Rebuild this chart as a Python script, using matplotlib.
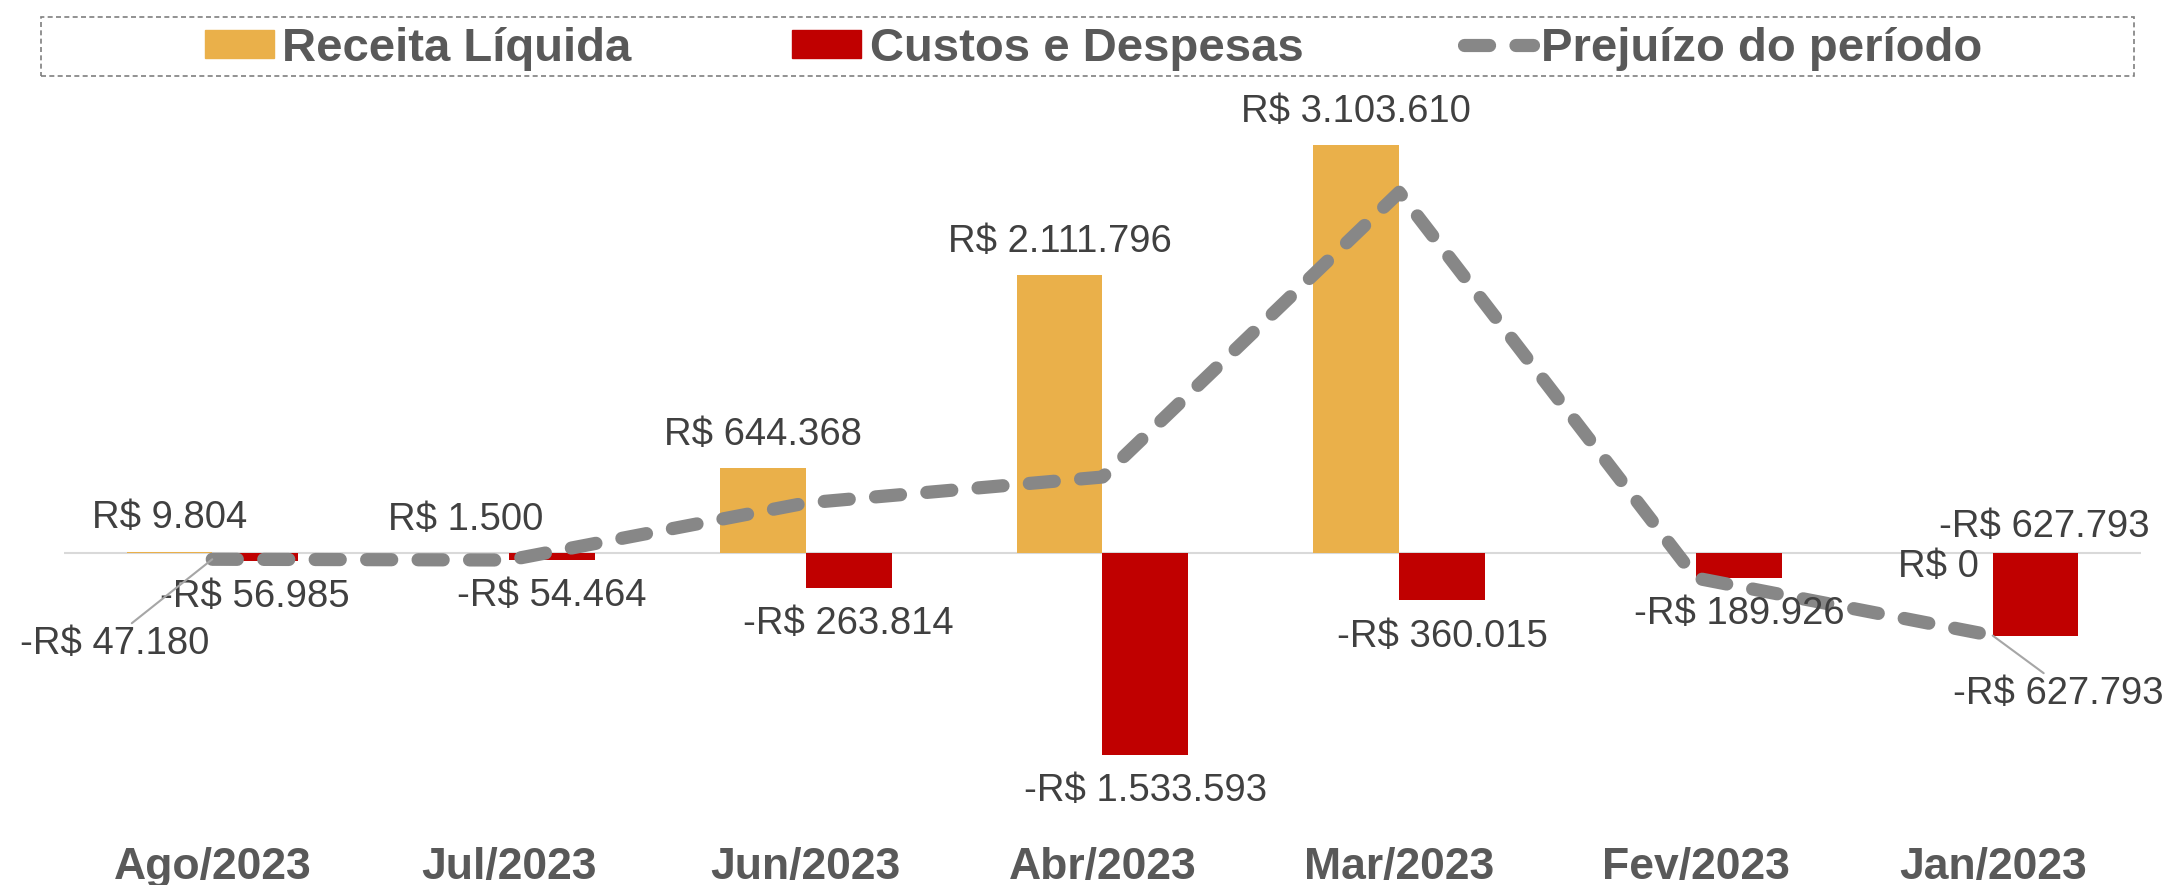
import numpy as np
import matplotlib.pyplot as plt
from matplotlib.patches import Rectangle

plt.rcParams['font.family'] = ['Liberation Sans Narrow', 'Liberation Sans', 'DejaVu Sans']

# data
meses = ['Ago/2023', 'Jul/2023', 'Jun/2023', 'Abr/2023', 'Mar/2023', 'Fev/2023', 'Jan/2023']
receita = [9804, 1500, 644368, 2111796, 3103610, 0, 0]
custos = [-56985, -54464, -263814, -1533593, -360015, -189926, -627793]
prejuizo = [-47180, -52964, 380554, 578203, 2743595, -189926, -627793]

c_rec = '#EAB04A'
c_cus = '#C00000'
c_lin = '#878787'
c_txt = '#404040'
c_tick = '#595959'

def brl(v):
    s = '{:,.0f}'.format(abs(v)).replace(',', '.')
    return ('-R$ ' if v < 0 else 'R$ ') + s

fig = plt.figure(figsize=(21.66, 8.85), dpi=100)
ax = fig.add_axes([0.0295, 0.096, 0.959, 0.791])

x = np.arange(len(meses))
w = 0.289
dash = (0, (1.9, 2.0))

ax.bar(x - w/2, receita, w, color=c_rec, zorder=2)
ax.bar(x + w/2, custos, w, color=c_cus, zorder=2)
ax.axhline(0, color='#D9D9D9', lw=1.5, zorder=1)

ax.plot(x, prejuizo, color=c_lin, lw=9.5, ls=dash,
        dash_capstyle='round', zorder=3)

lblsize = 27.5

# receita labels
for i in range(len(meses)):
    if i == 5:
        continue
    if receita[i] == 0:
        ax.annotate(brl(receita[i]), (x[i] - w/2, 0), xytext=(-8, -10),
                    textcoords='offset points', ha='center', va='center',
                    fontsize=lblsize, color=c_txt)
    else:
        ax.annotate(brl(receita[i]), (x[i] - w/2, receita[i]), xytext=(0, 24),
                    textcoords='offset points', ha='center', va='center',
                    fontsize=lblsize, color=c_txt)

# custos labels
for i in range(len(meses)):
    if i == 6:
        ax.annotate(brl(custos[i]), (x[i] + w/2, 0), xytext=(6, 19),
                    textcoords='offset points', ha='center', va='center',
                    fontsize=lblsize, color=c_txt)
    else:
        ax.annotate(brl(custos[i]), (x[i] + w/2, custos[i]), xytext=(0, -26),
                    textcoords='offset points', ha='center', va='center',
                    fontsize=lblsize, color=c_txt)

# prejuizo labels (only first and last)
ax.annotate(brl(prejuizo[0]), (x[0], prejuizo[0]), xytext=(-70, -61),
            textcoords='offset points', ha='center', va='center',
            fontsize=lblsize, color=c_txt,
            arrowprops=dict(arrowstyle='-', color='#A6A6A6', lw=1.5,
                            relpos=(0.57, 1.0), shrinkA=0, shrinkB=0))
ax.annotate(brl(prejuizo[6]), (x[6], prejuizo[6]), xytext=(47, -42),
            textcoords='offset points', ha='center', va='center',
            fontsize=lblsize, color=c_txt, annotation_clip=False,
            arrowprops=dict(arrowstyle='-', color='#A6A6A6', lw=1.5,
                            relpos=(0.45, 1.0), shrinkA=0, shrinkB=0))

ax.set_xlim(-0.5, 6.5)
ax.set_ylim(-1.878e6, 3.445e6)
ax.set_xticks(x)
ax.set_xticklabels(meses, fontsize=32, fontweight='bold', color=c_tick)
ax.tick_params(axis='x', length=0, pad=34)
ax.set_yticks([])
for s in ax.spines.values():
    s.set_visible(False)

# legend
h1 = plt.Rectangle((0, 0), 1, 1, color=c_rec)
h2 = plt.Rectangle((0, 0), 1, 1, color=c_cus)
h3, = ax.plot([], [], color=c_lin, lw=9.5, ls=dash, dash_capstyle='round')
leg = fig.legend([h1, h2, h3], ['Receita Líquida', 'Custos e Despesas', 'Prejuízo do período'],
                 loc='center', bbox_to_anchor=(0.505, 0.945), ncol=3, frameon=False,
                 prop={'size': 34, 'weight': 'bold'}, handlelength=1.46,
                 handleheight=0.55, handletextpad=0.18, columnspacing=3.4)
for t in leg.get_texts():
    t.set_color(c_tick)

fig.patches.append(Rectangle((41/2166, 1 - 76/885), (2134-41)/2166, 59/885,
                             transform=fig.transFigure, fill=False,
                             edgecolor='#7F7F7F', lw=1.2, ls=(0, (3, 2))))

plt.savefig('out.png', dpi=100)
